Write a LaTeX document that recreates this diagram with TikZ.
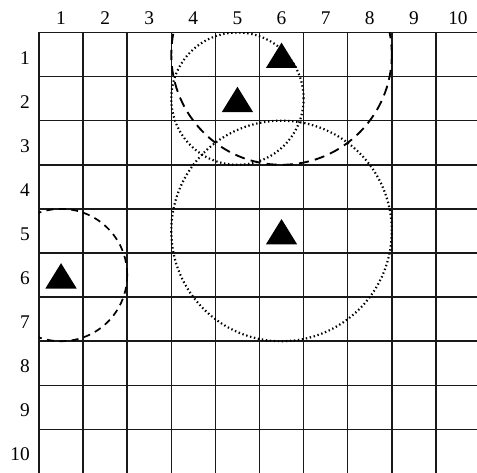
\documentclass[tikz,border=0pt]{standalone}
\usepackage{fontspec}
\setmainfont{Liberation Serif}
\begin{document}
\begin{tikzpicture}[x=1cm,y=1cm,
  gridline/.style={line width=1pt,black!90},
  bigdash/.style={line width=1.2pt,dash pattern=on 6.5pt off 4pt},
  smalldash/.style={line width=1.1pt,dash pattern=on 4.5pt off 3.5pt},
  dotline/.style={line width=1.4pt,dash pattern=on 0.9pt off 1.7pt},
  collabel/.style={font=\fontsize{12.5}{15}\selectfont,inner sep=0pt},
  rowlabel/.style={font=\fontsize{12.5}{15}\selectfont,inner sep=0pt,anchor=east},
  tri/.style={fill=black}]
\useasboundingbox (-0.884,0.737) rectangle (9.932,-9.966);
\clip (-0.884,0.737) rectangle (9.932,-9.966);
\fill[white] (-0.884,0.737) rectangle (9.932,-9.966);
% grid
\draw[gridline] (0,0) grid (10,-10);
% column labels
\foreach \c in {1,...,10} {
  \node[collabel] (col\c) at (\c-0.5,0.32) {\c};
}
% row labels
\foreach \r in {1,...,10} {
  \node[rowlabel] (row\r) at (-0.2,-\r+0.5-0.07) {\r};
}
% circles clipped to grid
\begin{scope}
  \clip (0,0) rectangle (10,-10);
  \draw[bigdash] (5.5,-0.5) circle (2.5);
  \draw[dotline] (4.5,-1.5) circle (1.5);
  \draw[dotline] (5.5,-4.5) circle (2.5);
  \draw[smalldash] (0.5,-5.5) circle (1.5);
\end{scope}
% triangles
\foreach \cx/\cy in {5.5/-0.5, 4.5/-1.5, 5.5/-4.5, 0.5/-5.5} {
  \fill[tri] (\cx,\cy+0.27) -- (\cx+0.355,\cy-0.305) -- (\cx-0.355,\cy-0.305) -- cycle;
}
\end{tikzpicture}
\end{document}
